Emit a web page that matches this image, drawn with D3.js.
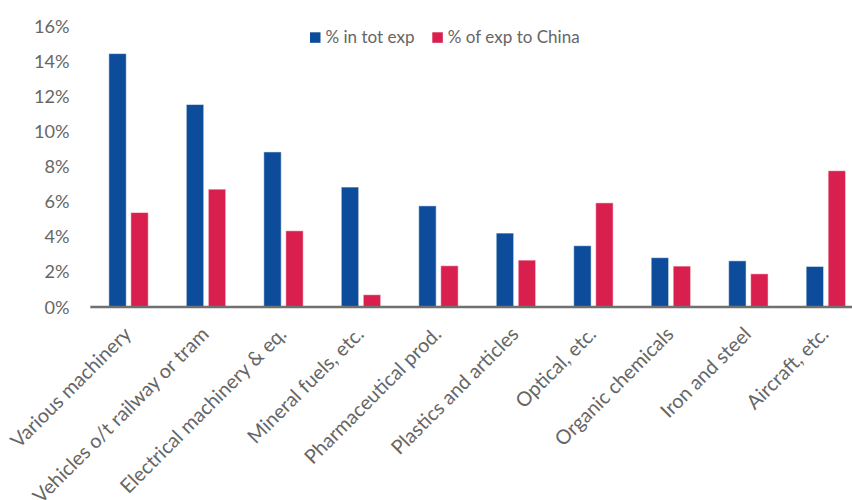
<!DOCTYPE html>
<html>
<head>
<meta charset="utf-8">
<script src="https://cdn.jsdelivr.net/npm/d3@7"></script>
<style>
  html, body { margin: 0; padding: 0; background: #fff; }
  svg { display: block; font-family: Lato, "Open Sans", sans-serif; }
</style>
</head>
<body>
<svg id="chart" width="852" height="500"></svg>
<script>
const categories = ["Various machinery", "Vehicles o/t railway or tram", "Electrical machinery & eq.",
  "Mineral fuels, etc.", "Pharmaceutical prod.", "Plastics and articles", "Optical, etc.",
  "Organic chemicals", "Iron and steel", "Aircraft, etc."];
const seriesNames = ["% in tot exp", "% of exp to China"];
const totExp = [14.4, 11.5, 8.8, 6.8, 5.73, 4.18, 3.46, 2.78, 2.6, 2.28];
const chinaExp = [5.35, 6.68, 4.31, 0.67, 2.32, 2.64, 5.9, 2.3, 1.86, 7.73];
const yTicks = [0, 2, 4, 6, 8, 10, 12, 14, 16];
const colors = ["#0D4C9B", "#D91F4D"];
const textColor = "#666666";

const svg = d3.select("#chart");
const x = d3.scaleBand().domain(categories).range([89.8, 864.6]).paddingInner(0).paddingOuter(0);
const y = d3.scaleLinear().domain([0, 16]).range([306.5, 25.5]);
const barW = 17.4, gap = 4.6;

// fit a font size so that a sample string has a target width
function fitSize(str, target, base) {
  const t = svg.append("text").attr("font-size", base).text(str);
  const w = t.node().getComputedTextLength();
  t.remove();
  return base * target / w;
}
const ySize = fitSize("16%", 35.6, 18);
const xSize = fitSize("Electrical machinery & eq.", 225, 20);
const legSize = fitSize("% of exp to China", 132, 16);

// y axis labels
const yAxis = d3.axisLeft(y).tickValues(yTicks).tickFormat(d => d + "%").tickSize(0).tickPadding(0);
const yg = svg.append("g").attr("transform", "translate(69.5,0)").call(yAxis);
yg.select(".domain").remove();
yg.selectAll("text").attr("font-size", ySize).attr("fill", textColor)
  .attr("font-family", "Lato, sans-serif").attr("dy", "0.36em");

// bars
const data = [totExp, chinaExp];
data.forEach((vals, si) => {
  svg.append("g").selectAll("rect").data(vals).join("rect")
    .attr("x", (d, i) => x(categories[i]) + x.bandwidth() / 2 - barW - gap / 2 + si * (barW + gap))
    .attr("y", d => y(d))
    .attr("width", barW)
    .attr("height", d => y(0) - y(d))
    .attr("fill", colors[si])
    .attr("stroke", "rgba(255,255,255,0.5)")
    .attr("stroke-width", 1);
});

// x axis
const xAxis = d3.axisBottom(x).tickSize(0).tickPadding(0);
const xg = svg.append("g").attr("transform", `translate(0,${y(0)})`).call(xAxis);
xg.select(".domain").attr("stroke", "#707070").attr("stroke-width", 2.5);
xg.selectAll(".tick text")
  .attr("font-size", xSize).attr("fill", textColor).attr("font-family", "Lato, sans-serif")
  .attr("text-anchor", "end")
  .attr("y", 0)
  .attr("dy", 0)
  .attr("transform", "translate(4,29) rotate(-45)");

// legend
const legend = svg.append("g").attr("transform", "translate(310,32.3)");
const lx = [0, 122.3];
seriesNames.forEach((name, i) => {
  const g = legend.append("g").attr("transform", `translate(${lx[i]},0)`);
  g.append("rect").attr("width", 10.5).attr("height", 10.5).attr("fill", colors[i]);
  g.append("text").attr("x", 15.5).attr("y", 11).attr("font-size", legSize)
    .attr("fill", textColor).text(name);
});
</script>
</body>
</html>
